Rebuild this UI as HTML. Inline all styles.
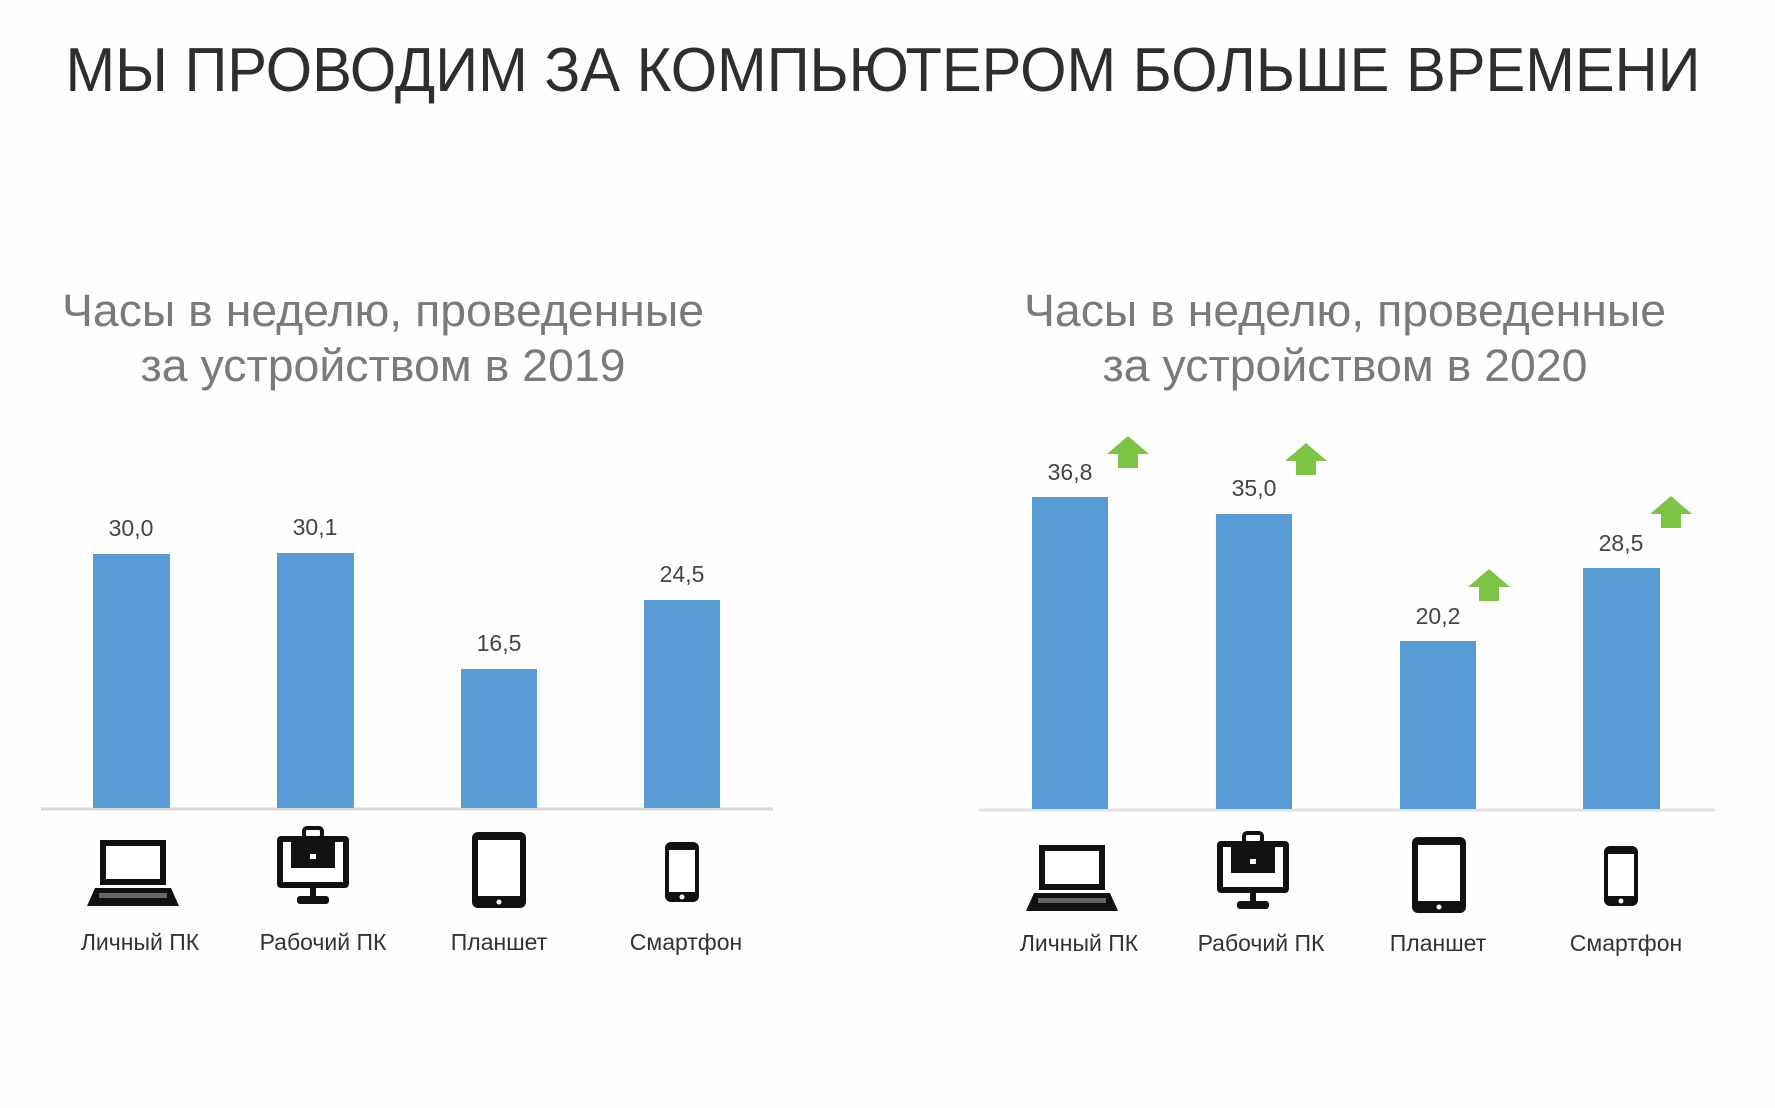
<!DOCTYPE html>
<html><head><meta charset="utf-8"><style>
html,body{margin:0;padding:0;background:#fefefe;}
svg{display:block}
</style></head><body>
<svg width="1775" height="1108" viewBox="0 0 1775 1108" xmlns="http://www.w3.org/2000/svg" font-family="'Liberation Sans', 'DejaVu Sans', sans-serif">
<rect width="1775" height="1108" fill="#fefefe"/>
<text x="883" y="91" text-anchor="middle" font-size="62" fill="#2e2e2e" textLength="1635" lengthAdjust="spacingAndGlyphs">МЫ ПРОВОДИМ ЗА КОМПЬЮТЕРОМ БОЛЬШЕ ВРЕМЕНИ</text>
<g fill="#7a7a7a" font-size="45" text-anchor="middle">
<text x="383" y="326" textLength="642" lengthAdjust="spacingAndGlyphs">Часы в неделю, проведенные</text>
<text x="383" y="381" textLength="485" lengthAdjust="spacingAndGlyphs">за устройством в 2019</text>
<text x="1345" y="326" textLength="642" lengthAdjust="spacingAndGlyphs">Часы в неделю, проведенные</text>
<text x="1345" y="381" textLength="485" lengthAdjust="spacingAndGlyphs">за устройством в 2020</text>
</g>
<line x1="41" y1="809" x2="773" y2="809" stroke="#d6d6d6" stroke-width="3"/>
<line x1="979" y1="810" x2="1715" y2="810" stroke="#e2e2e2" stroke-width="3"/>
<g fill="#5b9bd5">
<rect x="93" y="554" width="77" height="254"/>
<rect x="277" y="553" width="77" height="255"/>
<rect x="461" y="669" width="76" height="139"/>
<rect x="644" y="600" width="76" height="208"/>
<rect x="1032" y="497" width="76" height="312"/>
<rect x="1216" y="514" width="76" height="295"/>
<rect x="1400" y="641" width="76" height="168"/>
<rect x="1583" y="568" width="77" height="241"/>
</g>
<g fill="#444" font-size="23" text-anchor="middle">
<text x="131" y="536">30,0</text>
<text x="315" y="535">30,1</text>
<text x="499" y="651">16,5</text>
<text x="682" y="582">24,5</text>
<text x="1070" y="480">36,8</text>
<text x="1254" y="496">35,0</text>
<text x="1438" y="624">20,2</text>
<text x="1621" y="551">28,5</text>
</g>
<g fill="#7cc346">
<path d="M1107,454 L1128,436 L1149,454 L1138,454 L1138,468 L1118,468 L1118,454 Z"/>
<path d="M1285,461 L1306,443 L1327,461 L1316,461 L1316,475 L1296,475 L1296,461 Z"/>
<path d="M1468,587 L1489,569 L1510,587 L1499,587 L1499,601 L1479,601 L1479,587 Z"/>
<path d="M1650,514 L1671,496 L1692,514 L1681,514 L1681,528 L1661,528 L1661,514 Z"/>
</g>
<defs>
<g id="laptop"><rect x="-33" y="0" width="66" height="45" fill="#111"/><rect x="-27" y="6" width="54" height="33" fill="#fff"/><path d="M-38,48 L38,48 L46,66 L-46,66 Z" fill="#111"/><rect x="-34" y="53" width="68" height="5" fill="#666"/></g>
<g id="work"><rect x="-36" y="8" width="72" height="52" rx="4" fill="#111"/><rect x="-30" y="14" width="60" height="40" fill="#fff"/><rect x="-22" y="14" width="44" height="26" fill="#111"/><rect x="-9" y="0" width="18" height="10" rx="3" fill="none" stroke="#111" stroke-width="4"/><rect x="-3" y="26" width="6" height="5" fill="#fff"/><rect x="-3" y="60" width="6" height="10" fill="#111"/><rect x="-16" y="68" width="32" height="8" rx="3" fill="#111"/></g>
<g id="tablet"><rect x="-27" y="0" width="54" height="76" rx="6" fill="#111"/><rect x="-21" y="8" width="42" height="56" fill="#fff"/><circle cx="0" cy="70" r="2.5" fill="#fff"/></g>
<g id="phone"><rect x="-17" y="0" width="34" height="60" rx="6" fill="#111"/><rect x="-13" y="8" width="26" height="42" fill="#fff"/><circle cx="0" cy="55" r="2.5" fill="#fff"/></g>
</defs>
<use href="#laptop" x="133" y="840"/>
<use href="#work" x="313" y="828"/>
<use href="#tablet" x="499" y="832"/>
<use href="#phone" x="682" y="842"/>
<use href="#laptop" x="1072" y="845"/>
<use href="#work" x="1253" y="833"/>
<use href="#tablet" x="1439" y="837"/>
<use href="#phone" x="1621" y="846"/>
<g fill="#333" font-size="23" text-anchor="middle">
<text x="140" y="950">Личный ПК</text>
<text x="323" y="950">Рабочий ПК</text>
<text x="499" y="950">Планшет</text>
<text x="686" y="950">Смартфон</text>
<text x="1079" y="951">Личный ПК</text>
<text x="1261" y="951">Рабочий ПК</text>
<text x="1438" y="951">Планшет</text>
<text x="1626" y="951">Смартфон</text>
</g>
</svg>
</body></html>
